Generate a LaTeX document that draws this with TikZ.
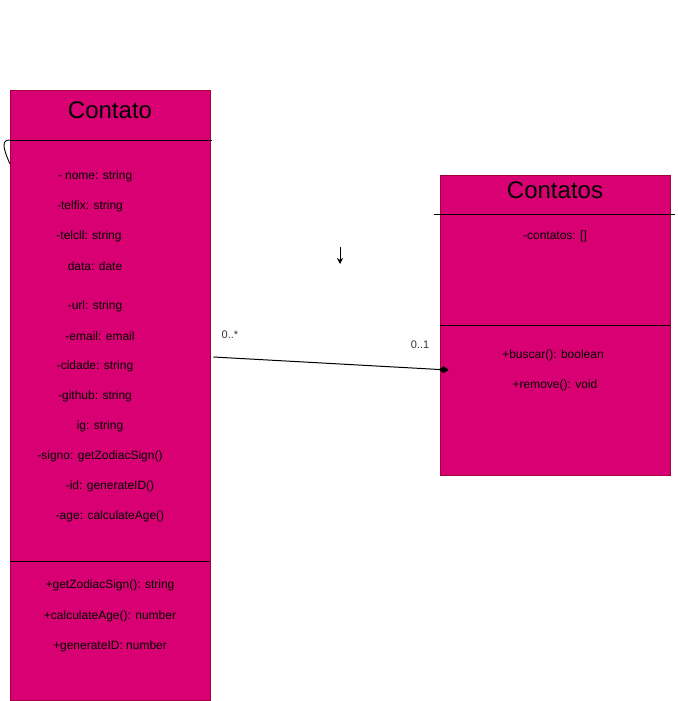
\documentclass[tikz,border=0pt]{standalone}
\usepackage{fontspec}
\setmainfont{Liberation Sans}
\usetikzlibrary{arrows.meta}
\definecolor{umlpink}{HTML}{D80073}
\definecolor{umledge}{HTML}{A50040}
\begin{document}
\begin{tikzpicture}[x=1pt,y=-1pt,
 classbox/.style ={fill=umlpink, draw=umledge, line width=0.8pt, inner sep=0pt},
 title/.style ={font=\fontsize{24}{28}\selectfont},
 member/.style ={font=\fontsize{12}{14}\selectfont, inner sep=0pt},
 divider/.style ={-,draw=black, line width=0.9pt},
 assoc/.style ={-{Diamond[length=10pt,width=7pt]},draw=black, line width=1pt},
 mult/.style ={font=\fontsize{11}{13}\selectfont, text=black!80, inner sep=0pt}
 ]
\useasboundingbox (0,0) rectangle (677,701);
%draw class Contato
\node[classbox, minimum width=200pt, minimum height=610pt] (contato) at (110,395) {};
\node[title] (contatoName) at (110,110) {Contato};
\draw[divider] (10,140) -- (212,140);
\draw[divider] (10,140) .. controls (2,140) and (2,146) .. (10,164);
\draw[divider] (10,561) -- (210,561);
%draw attributes of Contato
\node[member] (nome) at (95,176) {- nome: string};
\node[member] (telfix) at (90,206) {-telfix: string};
\node[member] (telcll) at (89,236) {-telcll: string};
\node[member] (data) at (95,266) {data: date};
\node[member] (url) at (95,306) {-url: string};
\node[member] (email) at (100,336) {-email: email};
\node[member] (cidade) at (95,366) {-cidade: string};
\node[member] (github) at (95,396) {-github: string};
\node[member] (ig) at (100,426) {ig: string};
\node[member] (signo) at (100,456) {-signo: getZodiacSign()};
\node[member] (id) at (110,486) {-id: generateID()};
\node[member] (age) at (110,516) {-age: calculateAge()};
%draw methods of Contato
\node[member] (getSign) at (110,585) {+getZodiacSign(): string};
\node[member] (calcAge) at (110,616) {+calculateAge(): number};
\node[member] (genID) at (110,646) {+generateID: number};
%draw class Contatos
\node[classbox, minimum width=230pt, minimum height=300pt] (contatos) at (555,325) {};
\node[title] (contatosName) at (555,190) {Contatos};
\draw[divider] (434,214) -- (675,214);
\draw[divider] (440,325) -- (670,325);
\node[member] (lista) at (555,236) {-contatos: []};
\node[member] (buscar) at (553,355) {+buscar(): boolean};
\node[member] (remove) at (555,385) {+remove(): void};
%draw association
\draw[assoc] ([shift={(3,-38)}]contato.east) -- ([shift={(9,45)}]contatos.west);
\node[mult] (multMany) at (230,335) {0..*};
\node[mult] (multOne) at (420,345) {0..1};
%draw stray arrow
\coordinate (arrowTop) at (340,247);
\coordinate (arrowBot) at (340,264);
\draw[line width=0.9pt, -{Stealth[length=6pt,width=6pt]}] (arrowTop) -- (arrowBot);
\end{tikzpicture}
\end{document}
